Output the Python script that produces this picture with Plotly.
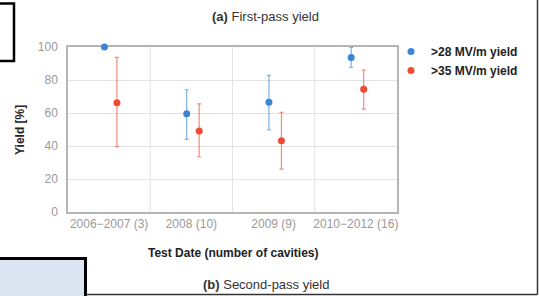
import plotly.graph_objects as go

categories = ["2006−2007 (3)", "2008 (10)", "2009 (9)", "2010−2012 (16)"]
yield28 = [100, 59.6, 66.5, 93.7]
yield28_hi = [None, 74.1, 82.8, 99.8]
yield28_lo = [None, 44.0, 49.7, 87.7]
yield35 = [66.2, 49.1, 43.2, 74.4]
yield35_hi = [93.7, 65.5, 60.4, 86.0]
yield35_lo = [39.6, 33.5, 26.0, 62.4]
y_ticks = [0, 20, 40, 60, 80, 100]

W, H = 539, 296
L, R, T, B = 68, 397, 47, 212


def px(x):
    return (x - L) / (R - L)


def py(y):
    return (B - y) / (B - T)


def up(hi, v):
    return [None if h is None else h - c for h, c in zip(hi, v)]


def down(lo, v):
    return [None if l is None else c - l for l, c in zip(lo, v)]


idx = list(range(len(categories)))
blue = "#3a86d4"
red = "#f04b32"

fig = go.Figure()
fig.add_trace(go.Scatter(
    x=[i - 0.057 for i in idx], y=yield28, mode="markers",
    name="&gt;28 MV/m yield", cliponaxis=False,
    marker=dict(color=blue, size=7),
    error_y=dict(type="data", symmetric=False,
                 array=up(yield28_hi, yield28), arrayminus=down(yield28_lo, yield28),
                 color="rgba(58,134,212,0.65)", thickness=1.2, width=2),
))
fig.add_trace(go.Scatter(
    x=[i + 0.095 for i in idx], y=yield35, mode="markers",
    name="&gt;35 MV/m yield", cliponaxis=False,
    marker=dict(color=red, size=7),
    error_y=dict(type="data", symmetric=False,
                 array=up(yield35_hi, yield35), arrayminus=down(yield35_lo, yield35),
                 color="rgba(240,75,50,0.65)", thickness=1.2, width=2),
))

grid = "#e3e3e3"
axcol = "#b5b5b5"
fig.update_xaxes(
    range=[-0.5, 3.5], tickmode="array", tickvals=idx, ticktext=categories,
    showgrid=False, zeroline=False, showline=True, linecolor=axcol, linewidth=1.5,
    mirror=True, tickfont=dict(size=12, color="#9a9a9a", family="Liberation Sans"),
    ticks="", fixedrange=True, layer="below traces",
)
fig.update_yaxes(
    range=[0, 100], tickmode="array", tickvals=y_ticks,
    showgrid=True, gridcolor=grid, gridwidth=1, zeroline=False,
    showline=True, linecolor=axcol, linewidth=1.5, mirror=True,
    tickfont=dict(size=12, color="#9a9a9a", family="Liberation Sans"),
    ticks="", ticklabelstandoff=6, layer="below traces",
)

shapes = []
# vertical category gridlines
for b in [0.5, 1.5, 2.5]:
    shapes.append(dict(type="line", xref="x", yref="paper", x0=b, x1=b, y0=0, y1=1,
                       line=dict(color=grid, width=1), layer="below"))
# decorative page elements
shapes.append(dict(type="rect", xref="paper", yref="paper",
                   x0=px(-10), x1=px(14), y0=py(61), y1=py(3.5),
                   line=dict(color="black", width=2.5), fillcolor="white"))
shapes.append(dict(type="rect", xref="paper", yref="paper",
                   x0=px(-10), x1=px(85.5), y0=py(320), y1=py(258.5),
                   line=dict(color="black", width=3), fillcolor="#dce6f2"))
shapes.append(dict(type="line", xref="paper", yref="paper",
                   x0=px(86), x1=px(537.5), y0=py(294.5), y1=py(294.5),
                   line=dict(color="#333333", width=1.5)))
shapes.append(dict(type="line", xref="paper", yref="paper",
                   x0=px(537.5), x1=px(537.5), y0=py(-10), y1=py(294.5),
                   line=dict(color="#333333", width=1.5)))

annotations = [
    dict(text="<b>(a)</b> First-pass yield", x=px(265.5), y=py(17), xref="paper", yref="paper",
         showarrow=False, xanchor="center", yanchor="middle",
         font=dict(size=13, color="#333333", family="Liberation Sans")),
    dict(text="<b>(b)</b> Second-pass yield", x=px(266), y=py(284), xref="paper", yref="paper",
         showarrow=False, xanchor="center", yanchor="middle",
         font=dict(size=13, color="#333333", family="Liberation Sans")),
    dict(text="<b>Test Date (number of cavities)</b>", x=px(233), y=py(253), xref="paper", yref="paper",
         showarrow=False, xanchor="center", yanchor="middle",
         font=dict(size=12, color="#222222", family="Liberation Sans")),
    dict(text="<b>Yield [%]</b>", x=px(20), y=py(130), xref="paper", yref="paper",
         showarrow=False, xanchor="center", yanchor="middle", textangle=-90,
         font=dict(size=12, color="#222222", family="Liberation Sans")),
]

fig.update_layout(
    width=W, height=H,
    margin=dict(l=L, r=W - R, t=T, b=H - B, pad=0),
    paper_bgcolor="white", plot_bgcolor="white",
    showlegend=True,
    legend=dict(x=px(391), y=py(37), xanchor="left", yanchor="top",
                font=dict(size=12, color="#222222", family="Liberation Sans"),
                bgcolor="rgba(0,0,0,0)", itemwidth=30, tracegroupgap=0),
    shapes=shapes, annotations=annotations,
)
fig.update_layout(legend_font_weight="bold")

fig.write_html("out.html", config={"displayModeBar": False},
               post_script="document.body.style.margin='0';document.body.style.overflow='hidden';")
